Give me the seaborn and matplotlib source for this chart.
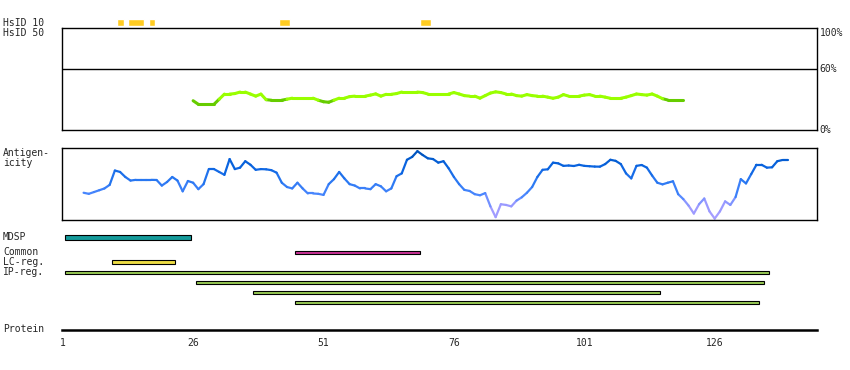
# Protein feature overview: HsID / antigenicity / regions
import numpy as np
import pandas as pd
import seaborn as sns
import matplotlib.pyplot as plt
from matplotlib.colors import LinearSegmentedColormap

# ---- data ----
# HsID 10 hits (residue spans)
hsid10_starts = [11.4, 13.5, 17.5, 42.5, 69.5]
hsid10_ends = [12.8, 16.6, 18.7, 44.6, 71.6]

# HsID 50 identity (%), residues 26..120
hsid50_first = 26
hsid50_vals = [29, 25.5, 25.5, 25.5, 25.5, 30.5, 35.5, 35.5, 36, 37.5,
               37.5, 35.5, 33.5, 35.5, 30, 29.5, 29.5, 29.5, 30.5, 31.5,
               31.5, 31.5, 31.5, 31.5, 29.5, 28, 27.5, 29.5, 31.5, 31.5,
               33, 33.5, 33.5, 33.5, 34.5, 35.7, 33.5, 35.3, 35.3, 36,
               37.5, 37.5, 37.5, 37.5, 37, 35.6, 35.6, 35.6, 35.6, 35.6,
               37, 35.6, 34, 33.5, 33.5, 31.5, 34, 36.5, 37.7, 37,
               35.6, 35.6, 34, 33.5, 35, 34, 33.5, 33.5, 32.5, 31.4,
               32.5, 35, 33.5, 33.5, 33.5, 34.5, 35, 33.5, 33.5, 32.5,
               31.4, 31.4, 31.4, 32.5, 34, 35.6, 35, 34.5, 35.6, 33.5,
               31, 29.7, 29.7, 29.7, 29.7]

# antigenicity (relative, 0 = panel bottom, 100 = top), residues 5..140
antig_first = 5
antig_vals = [38, 36.5, 39, 41.5, 44, 49, 69, 67, 60, 55,
              56, 56, 56, 56, 55.8, 48, 53, 60, 55, 40,
              54.4, 52, 43, 50, 71, 71, 67, 63, 85, 71,
              73, 82, 77, 70, 71, 70.7, 69.5, 66, 52, 46,
              44, 52, 44, 37, 37, 36.5, 35, 50, 57, 67,
              58, 50, 48, 44, 44, 43, 50, 47, 40, 44,
              61, 65, 84, 88, 96, 90.7, 86, 85, 80, 82,
              72, 60, 50, 42, 40.5, 36, 34.5, 37.5, 19, 4,
              22, 21, 19, 27, 31.6, 38, 46, 60, 70, 70.7,
              80, 79, 75.5, 76, 75.3, 77, 75.5, 75, 74.5, 74.4,
              78, 84, 82.5, 78, 65, 58, 75.5, 76.7, 73, 62,
              52, 49.7, 52, 54, 36, 29, 20, 9, 22, 30,
              12, 2, 12, 26, 21, 32, 57, 51, 64, 77,
              77, 73, 73.5, 82, 83.7, 83.7]

# region tracks (residue ranges)
mdsp_start, mdsp_end = 1, 25
common_start, common_end = 45, 69
lc_start, lc_end = 10, 22
ip_starts = [1, 26, 37, 45]
ip_ends = [136, 135, 115, 134]

axis_ticks = [1, 26, 51, 76, 101, 126]
pct_ticks = [0, 60, 100]

# ---- layout helpers (pixel based) ----
W, H = 850, 370
XLIM = (0.92, 145.67)

sns.set_style('white')
plt.rcParams['font.family'] = ['DejaVu Sans Mono']

fig = plt.figure(figsize=(W / 100, H / 100), dpi=100)


def add_axes(x0, y0, x1, y1):
    return fig.add_axes([x0 / W, 1 - y1 / H, (x1 - x0) / W, (y1 - y0) / H])


def label(x, y, s):
    fig.text(x / W, 1 - y / H, s, va='baseline', ha='left', fontsize=7)


def segments(first, vals):
    res = np.arange(first, first + len(vals))
    rows = []
    for i in range(len(vals) - 1):
        mid = (vals[i] + vals[i + 1]) / 2
        rows.append((i, res[i], vals[i], mid))
        rows.append((i, res[i + 1], vals[i + 1], mid))
    return pd.DataFrame(rows, columns=['seg', 'res', 'val', 'mid'])


def frame(ax, lw=1.0):
    for s in ax.spines.values():
        s.set_color('black')
        s.set_linewidth(lw)


# HsID 10 strip
ax0 = add_axes(62.3, 17.5, 817.3, 27.5)
ax0.barh(0.5, np.array(hsid10_ends) - np.array(hsid10_starts), left=hsid10_starts,
         height=0.62, color='#ffcc22')
ax0.set_xlim(XLIM)
ax0.set_ylim(0, 1)
ax0.axis('off')

# HsID 50 panel
ax1 = add_axes(62.3, 28.3, 817.3, 130.3)
seg = segments(hsid50_first, hsid50_vals)
seg['level'] = np.where(seg['mid'] < 30.4, 'low', 'high')
sns.lineplot(data=seg, x='res', y='val', units='seg', estimator=None, hue='level',
             palette={'low': '#66cc00', 'high': '#99ff00'}, linewidth=2.2,
             legend=False, ax=ax1, solid_capstyle='round')
ax1.axhline(60, color='black', lw=1.0)
ax1.set_xlim(XLIM)
ax1.set_ylim(0, 100)
ax1.set(xlabel='', ylabel='')
ax1.set_xticks([])
ax1.set_yticks([])
for p in pct_ticks:
    ax1.text(1.003, p, f'{p}%', transform=ax1.get_yaxis_transform(),
             va='top' if p == 100 else 'center', ha='left', fontsize=7)
frame(ax1)

# antigenicity panel
ax2 = add_axes(62.3, 148.3, 817.3, 220)
blues = LinearSegmentedColormap.from_list(
    'antig', [(0, '#aaa0ff'), (0.22, '#9999ff'), (0.34, '#4d88ff'),
              (0.55, '#2a78f2'), (0.75, '#0a64e0'), (0.9, '#0058c8'), (1.0, '#0048a8')])
seg = segments(antig_first, antig_vals)
sns.lineplot(data=seg, x='res', y='val', units='seg', estimator=None, hue='mid',
             palette=blues, hue_norm=(0, 100), linewidth=1.6,
             legend=False, ax=ax2, solid_capstyle='round')
ax2.set_xlim(XLIM)
ax2.set_ylim(0, 100)
ax2.set(xlabel='', ylabel='')
ax2.set_xticks([])
ax2.set_yticks([])
frame(ax2)

# region tracks
ax3 = add_axes(62.3, 230, 817.3, 310)
ax3.set_xlim(XLIM)
ax3.set_ylim(310, 230)
ax3.axis('off')
bar_kw = dict(edgecolor='black', linewidth=0.8)
ax3.barh(237.7, mdsp_end - mdsp_start, left=mdsp_start + 0.5, height=4.5,
         color='#159a9a', **bar_kw)
ax3.barh(252.3, common_end - common_start, left=common_start + 0.5, height=3.5,
         color='#cc3399', **bar_kw)
ax3.barh(262.2, lc_end - lc_start, left=lc_start + 0.5, height=3.5,
         color='#eedd44', **bar_kw)
for row, (s, e) in enumerate(zip(ip_starts, ip_ends)):
    ax3.barh(272.3 + 10 * row, e - s, left=s + 0.5, height=3.5,
             color='#99cc55', **bar_kw)

# protein axis
ax4 = add_axes(62.3, 320, 817.3, 330)
ax4.set_xlim(XLIM)
ax4.set_yticks([])
for name, s in ax4.spines.items():
    s.set_visible(name == 'bottom')
ax4.spines['bottom'].set_color('black')
ax4.spines['bottom'].set_linewidth(1.8)
ax4.set_xticks(axis_ticks + [XLIM[1] - 0.15], [str(t) for t in axis_ticks] + [''])
ax4.tick_params(axis='x', direction='out', length=2.2, width=1.4, pad=3.5,
                labelsize=7, color='black')

# row labels
label(3, 25.7, 'HsID 10')
label(3, 36, 'HsID 50')
label(3, 155.7, 'Antigen-')
label(3, 165.5, 'icity')
label(3, 240.3, 'MDSP')
label(3, 255, 'Common')
label(3, 265.3, 'LC-reg.')
label(3, 275.3, 'IP-reg.')
label(3, 332.5, 'Protein')

fig.savefig('out.png', dpi=100)
